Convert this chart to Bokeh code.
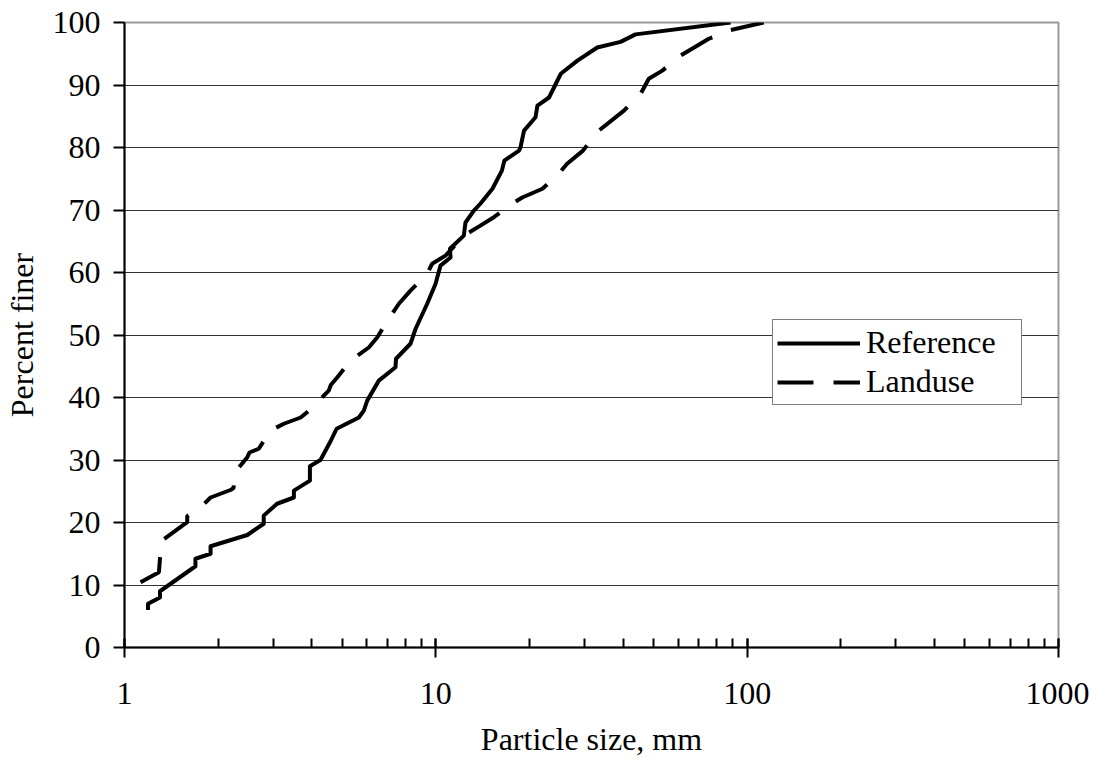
from bokeh.plotting import figure
from bokeh.models import Range1d, FixedTicker, LogTicker, Legend, LegendItem, NumeralTickFormatter
from bokeh.embed import file_html
from bokeh.resources import INLINE

ref_size = [1.19, 1.19, 1.30, 1.30, 1.69, 1.69, 1.89, 1.89, 2.48, 2.80, 2.80, 3.09, 3.50, 3.50,
            3.94, 3.94, 4.26, 4.59, 4.80, 5.66, 5.87, 6.02, 6.56, 7.42, 7.45, 8.29, 8.61, 9.38,
            9.98, 10.35, 11.15, 11.1, 12.3, 12.45, 13.25, 13.9, 15.2, 16.3, 16.6, 18.5, 18.7,
            19.2, 20.9, 21.2, 23.1, 25.2, 28.5, 33.0, 39.2, 43.8, 88.5]
ref_pct = [6, 7, 8, 9, 13, 14.2, 15, 16.2, 18, 19.8, 21.1, 23, 24, 25.1,
           26.7, 29, 30, 33, 35, 36.8, 37.9, 39.5, 42.7, 44.85, 46.2, 48.6, 51, 55,
           58.2, 61.1, 62.4, 63.8, 65.9, 68, 69.9, 71, 73.4, 76.3, 77.9, 79.5, 80,
           82.7, 84.85, 86.7, 88, 91.8, 93.9, 96, 96.9, 98.1, 100]

land_size = [1.126, 1.29, 1.30, 1.31, 1.59, 1.59, 1.78, 1.89, 2.19, 2.24, 2.26, 2.48, 2.52, 2.70,
             2.94, 3.25, 3.68, 4.16, 4.21, 4.53, 4.6, 4.82, 5.32, 6.09, 6.48, 7.06, 7.61, 8.29,
             9.38, 9.73, 10.74, 12.3, 13.9, 15.36, 17.6, 18.95, 22.0, 24.8, 26.4, 29.7, 33.0,
             40.2, 45.5, 48.3, 53.4, 61.1, 75.3, 88.5, 113.0]
land_pct = [10.45, 12.05, 14.2, 17, 20.05, 21, 22.7, 24, 25.2, 25.5, 28, 30.45, 31.2, 31.8,
            34.7, 35.8, 36.8, 39, 39.5, 41.1, 42, 43.2, 45.9, 48, 49.6, 52.6, 55, 57.1,
            59.8, 61.4, 62.7, 65.9, 67.5, 68.85, 71, 72, 73.4, 75.8, 77.4, 79.5, 82.5,
            85.9, 88.6, 91, 92.3, 94.7, 97.4, 98.8, 100]

x_ticks = [1, 10, 100, 1000]
y_ticks = [0, 10, 20, 30, 40, 50, 60, 70, 80, 90, 100]
grid_ticks = [10, 20, 30, 40, 50, 60, 70, 80, 90]

FONT = "Liberation Serif"
FS = "32px"

p = figure(frame_width=934, frame_height=625, x_axis_type="log",
           x_range=Range1d(1, 1000), y_range=Range1d(0, 100),
           output_backend="svg", toolbar_location=None,
           min_border_left=124, min_border_right=31, min_border_top=22, min_border_bottom=105)

p.outline_line_color = "#9a9a9a"
p.outline_line_width = 2
p.background_fill_color = "white"
p.border_fill_color = "white"

p.xgrid.visible = False
p.ygrid.ticker = FixedTicker(ticks=grid_ticks)
p.ygrid.grid_line_color = "#333333"
p.ygrid.grid_line_width = 1

xa = p.xaxis[0]
xa.ticker = LogTicker(desired_num_ticks=4, num_minor_ticks=10, mantissas=[1])
xa.axis_line_color = "black"
xa.axis_line_width = 2
xa.major_tick_line_width = 2
xa.minor_tick_line_width = 2
xa.major_tick_in = 9
xa.major_tick_out = 10
xa.minor_tick_in = 9
xa.minor_tick_out = 0
xa.major_label_text_font = FONT
xa.major_label_text_font_size = FS
xa.major_label_text_color = "black"
xa.major_label_standoff = 25
xa.axis_label = "Particle size, mm"
xa.axis_label_text_font = FONT
xa.axis_label_text_font_size = FS
xa.axis_label_text_font_style = "normal"
xa.axis_label_text_color = "black"
xa.axis_label_standoff = 14
xa.formatter = NumeralTickFormatter(format="0")

ya = p.yaxis[0]
ya.ticker = FixedTicker(ticks=y_ticks)
ya.axis_line_color = "black"
ya.axis_line_width = 2
ya.major_tick_line_width = 2
ya.major_tick_in = 0
ya.major_tick_out = 11
ya.minor_tick_line_color = None
ya.major_label_text_font = FONT
ya.major_label_text_font_size = FS
ya.major_label_text_color = "black"
ya.major_label_standoff = 13
ya.axis_label = "Percent finer"
ya.axis_label_text_font = FONT
ya.axis_label_text_font_size = FS
ya.axis_label_text_font_style = "normal"
ya.axis_label_text_color = "black"
ya.axis_label_standoff = 10

r_ref = p.line(ref_size, ref_pct, line_color="black", line_width=4, line_join="round")
r_land = p.line(land_size, land_pct, line_color="black", line_width=4, line_dash="36 20")

legend = Legend(items=[LegendItem(label="Reference", renderers=[r_ref]),
                       LegendItem(label="Landuse", renderers=[r_land])],
                location=(648, 242), orientation="vertical",
                label_text_font=FONT, label_text_font_size=FS, label_text_color="black",
                glyph_width=83, glyph_height=36, label_height=36, label_width=151,
                label_standoff=6, spacing=2, padding=4, margin=0,
                border_line_color="black", border_line_width=1,
                background_fill_color="white", background_fill_alpha=1)
p.add_layout(legend, "center")

open("out.html", "w").write(file_html(p, INLINE))
